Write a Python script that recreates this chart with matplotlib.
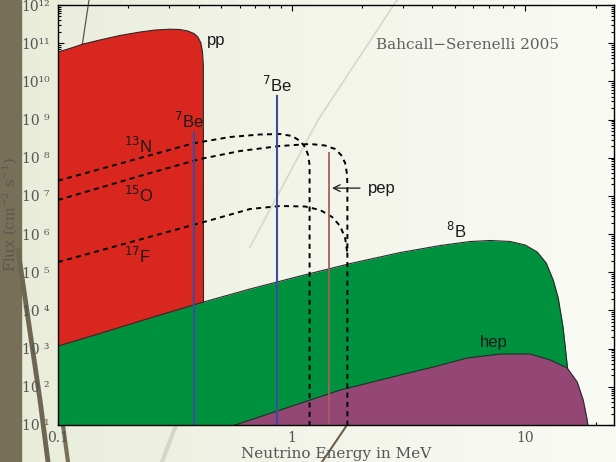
import numpy as np
import matplotlib
matplotlib.use("Agg")
import matplotlib.pyplot as plt
from matplotlib.colors import LinearSegmentedColormap
from matplotlib.ticker import LogLocator, NullFormatter

# continuum spectra: energy in MeV, flux in cm^-2 s^-1 MeV^-1
pp_energy = [0.1, 0.1126, 0.128, 0.151, 0.184, 0.2245, 0.2601, 0.302, 0.333,
             0.360, 0.382, 0.397, 0.409, 0.4155, 0.419, 0.42]
pp_flux = [5.87e10, 7.3e10, 9.5e10, 1.21e11, 1.59e11, 1.96e11, 2.21e11, 2.32e11, 2.28e11,
           2.08e11, 1.79e11, 1.45e11, 1.01e11, 5.9e10, 2.7e10, 1.0]

b8_energy = [0.1, 0.151, 0.248, 0.406, 0.664, 1.088, 1.78, 2.92, 4.33, 5.81, 7.08, 8.63,
             10.0, 11.26, 12.30, 13.18, 13.85, 14.54, 15.13, 15.74, 16.22, 16.3]
b8_flux = [1.17e3, 2.49e3, 6.34e3, 1.57e4, 3.65e4, 7.98e4, 1.69e5, 3.29e5, 5.02e5, 6.39e5,
           6.79e5, 6.4e5, 5.18e5, 3.40e5, 1.75e5, 6.27e4, 2.12e4, 3.47e3, 373, 27.9, 4.0, 1.0]

hep_energy = [0.406, 0.573, 0.867, 1.61, 2.92, 4.04, 5.64, 7.82, 10.5, 12.8, 15.13,
              16.70, 17.72, 18.43, 18.80, 18.9]
hep_flux = [4.84, 10, 23.2, 82, 204, 330, 567, 723, 723, 504, 311,
            134, 45, 13.5, 5.5, 1.0]

# CNO spectra (dashed)
n13_energy = [0.1, 0.381, 0.545, 0.733, 0.893, 1.005, 1.087, 1.142, 1.177, 1.194, 1.194]
n13_flux = [2.5e7, 2.4e8, 3.49e8, 4.06e8, 4.18e8, 3.71e8, 2.74e8, 1.91e8, 1.18e8, 6.4e7, 1.0]

o15_energy = [0.1, 0.248, 0.406, 0.602, 0.893, 1.200, 1.392, 1.536, 1.629, 1.695,
              1.729, 1.733, 1.733]
o15_flux = [7.8e6, 3.98e7, 9.25e7, 1.50e8, 2.03e8, 2.29e8, 2.09e8, 1.69e8, 1.18e8, 7.3e7,
            3.52e7, 1.43e7, 1.0]

f17_energy = [0.1, 0.448, 0.664, 0.893, 1.142, 1.325, 1.491, 1.613, 1.695, 1.729]
f17_flux = [1.85e5, 2.3e6, 4.54e6, 5.44e6, 5.28e6, 4.27e6, 2.80e6, 1.63e6, 7.9e5, 3.4e5]

# line sources: energy in MeV, flux in cm^-2 s^-1
be7_energy = [0.384, 0.862]
be7_flux = [4.7e8, 4.2e9]
pep_energy = 1.442
pep_flux = 1.3e8

red = "#d9261e"
green = "#00913f"
purple = "#944674"
edge = "#2a2a2a"
grey_text = "#555555"

fig = plt.figure(figsize=(6.16, 4.62), dpi=100)

# slide backdrop
bg = fig.add_axes([0, 0, 1, 1], zorder=0)
bg.set_xlim(0, 616)
bg.set_ylim(462, 0)
bg.axis("off")
paper = LinearSegmentedColormap.from_list("paper", ["#e8ecd8", "#f3f5ea", "#f9faf4"])
bg.imshow(np.linspace(0, 1, 256).reshape(1, -1), cmap=paper,
          extent=[0, 616, 462, 0], aspect="auto")
bg.axvspan(0, 21, color="#786f58")
bg.plot([89, 80], [0, 60], color="#5e5444", lw=0.9)
bg.plot([397, 318, 250], [0, 120, 247], color="#d6d8cc", lw=1.2)
bg.plot([18, 40, 48], [250, 400, 462], color="#6f6652", lw=3.5)
bg.plot([63, 68], [425, 462], color="#7a7058", lw=3)
bg.plot([176, 162], [425, 462], color="#d4d6ca", lw=3)
bg.plot([347, 322], [425, 462], color="#6a604c", lw=1.5)

ax = fig.add_axes([58 / 616, 37 / 462, 556 / 616, 420 / 462], zorder=1)
ax.set_facecolor("none")
ax.set_xscale("log")
ax.set_yscale("log")

ax.fill_between(pp_energy, pp_flux, 0.1, color=red, lw=0, zorder=2)
ax.plot(pp_energy, pp_flux, color=edge, lw=0.8, zorder=2.1)
ax.fill_between(b8_energy, b8_flux, 0.1, color=green, lw=0, zorder=3)
ax.plot(b8_energy, b8_flux, color=edge, lw=0.8, zorder=3.1)
ax.fill_between(hep_energy, hep_flux, 0.1, color=purple, lw=0, zorder=4)
ax.plot(hep_energy, hep_flux, color=edge, lw=0.8, zorder=4.1)

dash = (0, (2.6, 2.2))
for e, f in [(n13_energy, n13_flux), (o15_energy, o15_flux), (f17_energy, f17_flux)]:
    ax.plot(e, f, color="black", lw=1.4, linestyle=dash, zorder=5)

for e, f in zip(be7_energy, be7_flux):
    ax.plot([e, e], [0.1, f], color="#3a4c9e", lw=1.5, zorder=6)
ax.plot([pep_energy, pep_energy], [0.1, pep_flux], color="#a0625a", lw=1.3, zorder=6)

ax.set_xlim(0.1, 24.0)
ax.set_ylim(10, 1e12)

# labels on the spectra
lab = dict(fontsize=12, family="Liberation Sans", math_fontfamily="dejavusans",
           color="#1a1a1a", ha="left", va="baseline", zorder=7)
ax.text(0.435, 8.9e10, "pp", **lab)
ax.text(0.314, 6.0e8, r"$^{7}$Be", **lab)
ax.text(0.748, 5.3e9, r"$^{7}$Be", **lab)
ax.text(0.192, 1.3e8, r"$^{13}$N", **lab)
ax.text(0.192, 6.9e6, r"$^{15}$O", **lab)
ax.text(0.192, 1.7e5, r"$^{17}$F", **lab)
ax.text(4.6, 7.9e5, r"$^{8}$B", **lab)
ax.text(6.4, 1.1e3, "hep", **lab)
ax.annotate("pep", xy=(1.49, 1.6e7), xytext=(2.13, 1.6e7),
            fontsize=12, family="Liberation Sans", color="#1a1a1a",
            ha="left", va="center", zorder=7,
            arrowprops=dict(arrowstyle="->", color="#1a1a1a", lw=0.9,
                            shrinkA=4, shrinkB=0))

ax.text(0.572, 0.905, "Bahcall\u2212Serenelli 2005", transform=ax.transAxes,
        fontsize=11, family="DejaVu Serif", color="#606060", va="center")

# axes and ticks
sup = str.maketrans("0123456789", "\u2070\u00b9\u00b2\u00b3\u2074\u2075\u2076\u2077\u2078\u2079")
powers = np.arange(1, 13)
ylabels = ["10" + ("" if k >= 10 else " ") + str(k).translate(sup) for k in powers]
ax.set_yticks(10.0 ** powers, ylabels)
ax.yaxis.set_minor_locator(LogLocator(base=10, subs=np.arange(2, 10), numticks=100))
ax.yaxis.set_minor_formatter(NullFormatter())
ax.set_xticks([0.1, 1, 10], ["0.1", "1", "10"])
ax.xaxis.set_minor_locator(LogLocator(base=10, subs=np.arange(2, 10), numticks=100))
ax.xaxis.set_minor_formatter(NullFormatter())

ax.tick_params(which="both", direction="in", top=True, right=True,
               labelcolor=grey_text, width=0.8)
ax.tick_params(which="major", length=4.5)
ax.tick_params(which="minor", length=2.2)
ax.tick_params(axis="y", pad=6)
ax.tick_params(axis="x", pad=4)
for t in ax.get_xticklabels() + ax.get_yticklabels():
    t.set_family("DejaVu Serif")
    t.set_fontsize(10)
for s in ax.spines.values():
    s.set_linewidth(1.0)
    s.set_zorder(8)

ax.set_xlabel("Neutrino Energy in MeV", fontsize=11, family="DejaVu Serif",
              color=grey_text, labelpad=2)
fig.text(10 / 616, 1 - 215 / 462, "Flux (cm$^{-2}$ s$^{-1}$)", rotation=90,
         ha="center", va="center", fontsize=10.5, family="DejaVu Serif",
         math_fontfamily="dejavuserif", color="#5a584e")

fig.savefig("out.png", dpi=100)
